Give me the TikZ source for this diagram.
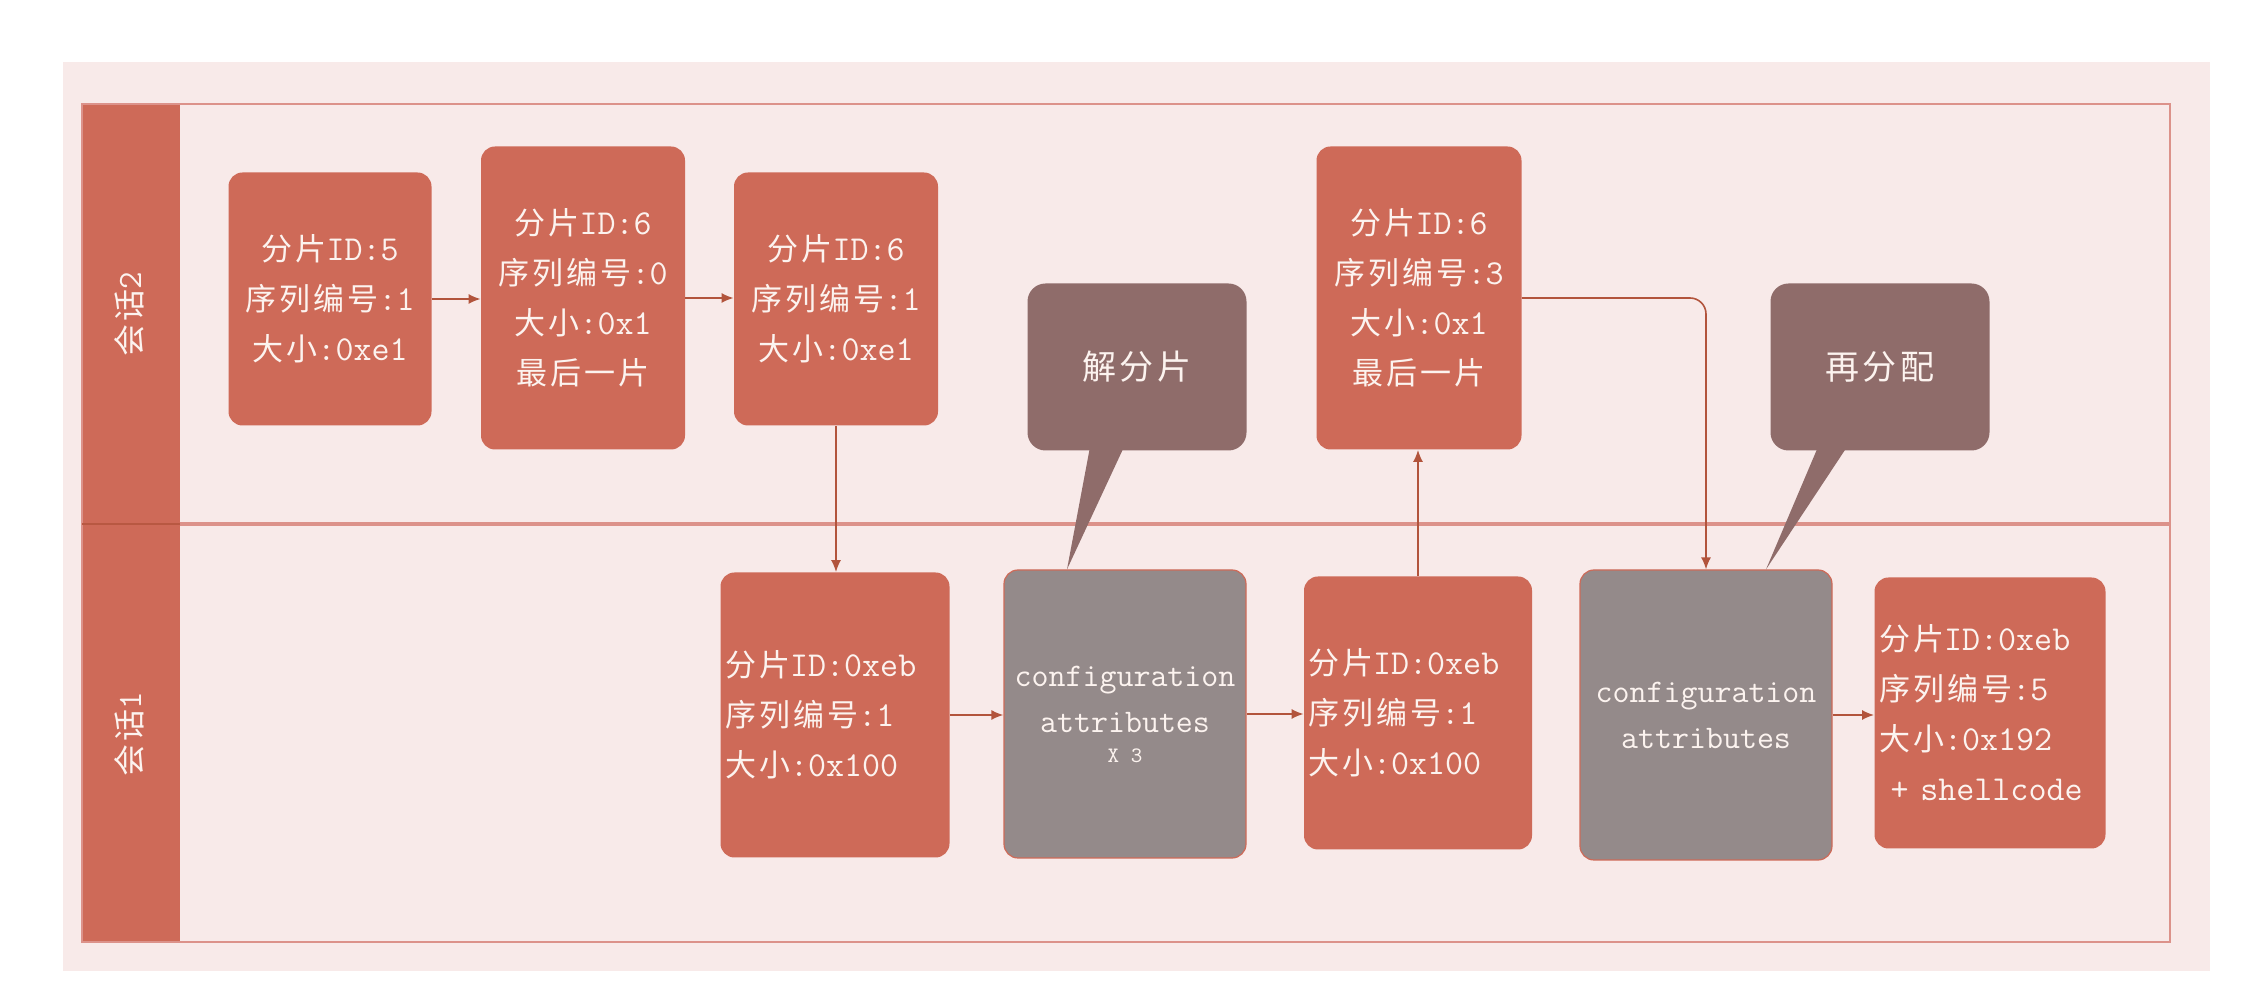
\documentclass[tikz,border=0pt]{standalone}
\usepackage{fontspec}
\setmainfont{Latin Modern Mono}
\newfontfamily\cjk[LetterSpace=10]{Noto Sans CJK SC}
\newcommand\zh[1]{{\cjk\fontsize{15.5}{25}\selectfont #1}}
\usetikzlibrary{arrows.meta,calc}
\definecolor{nodeor}{HTML}{CE6A58}
\definecolor{grayb}{HTML}{948A8A}
\definecolor{callc}{HTML}{8F6C6A}
\definecolor{bgc}{HTML}{F8EAE9}
\definecolor{lanec}{HTML}{DC928A}
\definecolor{arrc}{HTML}{B2543C}
\definecolor{txtc}{HTML}{FCF3EF}
\begin{document}
\begin{tikzpicture}[x=0.5pt,y=-0.5pt,
  frag/.style={rectangle, rounded corners=7pt, fill=nodeor, text=txtc,
    font=\fontsize{17.5}{25}\selectfont, align=center, inner sep=2pt},
  fragl/.style={frag, align=left},
  grayn/.style={rectangle, rounded corners=7pt, fill=grayb, draw=nodeor, line width=0.6pt,
    text=txtc, font=\fontsize{16.5}{23}\selectfont, align=center, inner sep=2pt},
  calln/.style={rectangle, rounded corners=9pt, fill=callc, text=txtc, inner sep=2pt},
  lanelbl/.style={rotate=90, text=txtc, font=\fontsize{17}{17}\selectfont},
  arr/.style={draw=arrc, line width=0.8pt, -{Latex[length=6pt,width=5pt]}}
]
\useasboundingbox (0,0) rectangle (2256,1004);
% background panel
\fill[bgc] (63,62) rectangle (2210,971);
% lanes
\fill[nodeor] (82,104) rectangle (180,942);
\draw[lanec, line width=1.1pt] (82,104) rectangle (2170,942);
\draw[lanec, line width=1.6pt] (180,524) -- (2170,524);
\draw[arrc!80!nodeor, line width=1.2pt] (82,524) -- (180,524);
\node[lanelbl] (l2) at (129,314) {{\cjk\fontsize{16}{17}\selectfont 会话}2};
\node[lanelbl] (l1) at (129,734) {{\cjk\fontsize{16}{17}\selectfont 会话}1};

% upper lane nodes
\node[frag, minimum width=101.5pt, minimum height=126.5pt] (A) at (330,299)
  {\zh{分片}ID:5\\\zh{序列编号}:1\\\zh{大小}:0xe1};
\node[frag, minimum width=102pt, minimum height=151.5pt] (B) at (583,298)
  {\zh{分片}ID:6\\\zh{序列编号}:0\\\zh{大小}:0x1\\\zh{最后一片}};
\node[frag, minimum width=102pt, minimum height=126.5pt] (C) at (836,299)
  {\zh{分片}ID:6\\\zh{序列编号}:1\\\zh{大小}:0xe1};
\node[frag, minimum width=102.5pt, minimum height=151.5pt] (D) at (1419,298)
  {\zh{分片}ID:6\\\zh{序列编号}:3\\\zh{大小}:0x1\\\zh{最后一片}};
\node[calln, minimum width=109.5pt, minimum height=83.5pt] (E) at (1137,367)
  {{\cjk\fontsize{17}{20}\selectfont 解分片}};
\node[calln, minimum width=109.5pt, minimum height=83.5pt] (F) at (1880,367)
  {{\cjk\fontsize{17}{20}\selectfont 再分配}};

% lower lane nodes
\node[fragl, minimum width=114.5pt, minimum height=142.5pt, text width=110pt] (G) at (835,715)
  {\zh{分片}ID:0xeb\\\zh{序列编号}:1\\\zh{大小}:0x100};
\node[grayn, minimum width=121pt, minimum height=144pt] (H) at (1125,714)
  {configuration\\attributes\\[-8pt]{\fontsize{11}{12}\selectfont X 3}};
\node[fragl, minimum width=114pt, minimum height=136.5pt, text width=110pt] (I) at (1418,713)
  {\zh{分片}ID:0xeb\\\zh{序列编号}:1\\\zh{大小}:0x100};
\node[grayn, minimum width=126pt, minimum height=145pt] (J) at (1706,715)
  {configuration\\attributes};
\node[fragl, minimum width=115.5pt, minimum height=135.5pt, text width=111pt] (K) at (1990,713)
  {\zh{分片}ID:0xeb\\\zh{序列编号}:5\\\zh{大小}:0x192\\\ + shellcode};

% callout tails
\fill[callc] ([xshift=-23.5pt,yshift=2pt]E.south) -- ([xshift=-6.5pt,yshift=2pt]E.south)
  -- ([xshift=-29pt]H.north) -- cycle;
\fill[callc] ([xshift=-31pt,yshift=2pt]F.south) -- ([xshift=-16.5pt,yshift=2pt]F.south)
  -- ([xshift=30pt]J.north) -- cycle;

% connectors
\draw[arr] (A.east) -- (A.east -| B.west);
\draw[arr] (B.east) -- (B.east -| C.west);
\draw[arr] (C.south) -- (C.south |- G.north);
\draw[arr] (G.east) -- (G.east -| H.west);
\draw[arr] (H.east) -- (H.east -| I.west);
\draw[arr] (I.north) -- (I.north |- D.south);
\draw[arr, rounded corners=8pt] (D.east) -| (J.north);
\draw[arr] (J.east) -- (J.east -| K.west);
\end{tikzpicture}
\end{document}
